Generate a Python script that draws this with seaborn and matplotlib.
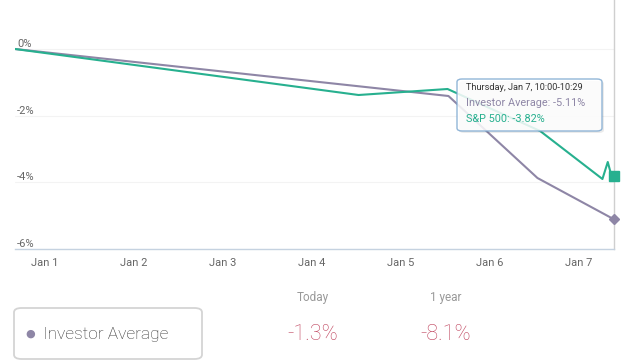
import numpy as np
import pandas as pd
import matplotlib
matplotlib.use("Agg")
import matplotlib.pyplot as plt
from matplotlib.patches import FancyBboxPatch
import seaborn as sns

# x = days after Jan 1 (fractional), y = % change
inv_x = [-0.33, 4.54, 5.54, 6.40]
inv_y = [0.0, -1.41, -3.87, -5.11]
sp_x = [-0.33, 3.53, 4.53, 5.57, 6.27, 6.33, 6.36, 6.40]
sp_y = [0.0, -1.38, -1.20, -2.46, -3.90, -3.39, -3.69, -3.82]

day_ticks = [0, 1, 2, 3, 4, 5, 6]
day_labels = ["Jan 1", "Jan 2", "Jan 3", "Jan 4", "Jan 5", "Jan 6", "Jan 7"]
pct_ticks = [0, -2, -4, -6]
pct_labels = ["0%", "-2%", "-4%", "-6%"]

tip_title = "Thursday, Jan 7, 10:00-10:29"
tip_lines = ["Investor Average: -5.11%", "S&P 500: -3.82%"]

summary_labels = ["Today", "1 year"]
summary_values = ["-1.3%", "-8.1%"]
legend_name = "Investor Average"

GREEN = "#27b08f"
PURPLE = "#8e86a6"
RED = "#c0455f"

sns.set_style("white")
plt.rcParams["font.family"] = ["Roboto", "DejaVu Sans"]

df = pd.concat([
    pd.DataFrame({"day": inv_x, "pct": inv_y, "series": "Investor Average"}),
    pd.DataFrame({"day": sp_x, "pct": sp_y, "series": "S&P 500"}),
])

fig = plt.figure(figsize=(6.31, 3.62), dpi=100)
ax = fig.add_axes([15 / 631, 113 / 362, 599 / 631, 249 / 362])

sns.lineplot(data=df, x="day", y="pct", hue="series", estimator=None, sort=False,
             palette={"Investor Average": PURPLE, "S&P 500": GREEN},
             linewidth=1.5, legend=False, ax=ax)
ax.plot(inv_x[-1], inv_y[-1], marker="D", ms=5, color=PURPLE, clip_on=False, zorder=10)
ax.plot(sp_x[-1], sp_y[-1], marker="s", ms=6.5, color=GREEN, clip_on=False, zorder=10)

ax.set_xlim(-0.33, 6.40)
ax.set_ylim(-6, 1.47)
ax.set_xticks(day_ticks, day_labels)
ax.set_yticks(pct_ticks, pct_labels)
ax.set_xlabel("")
ax.set_ylabel("")

ax.grid(axis="y", color="#f3f3f3", lw=0.8)
ax.grid(axis="x", visible=False)
for s in ["left", "top"]:
    ax.spines[s].set_visible(False)
ax.spines["bottom"].set_color("#c5d2e0")
ax.spines["bottom"].set_linewidth(1)
ax.spines["right"].set_color("#cfcfcf")
ax.spines["right"].set_linewidth(1)
ax.spines["right"].set_zorder(1)

ax.tick_params(axis="x", length=4.5, width=1, color="#c5d2e0", labelsize=8,
               labelcolor="#666666", pad=2)
ax.tick_params(axis="y", length=0, pad=-1.5, labelsize=8, labelcolor="#666666")
for lbl in ax.get_yticklabels():
    lbl.set_horizontalalignment("left")
    lbl.set_verticalalignment("bottom")

# tooltip
shadow = FancyBboxPatch((459 / 631, (362 - 133) / 362), 145 / 631, 52 / 362,
                        boxstyle="round,pad=0,rounding_size=0.008",
                        transform=fig.transFigure, facecolor="#000000", alpha=0.08,
                        edgecolor="none", zorder=5)
tip = FancyBboxPatch((457 / 631, (362 - 131) / 362), 145 / 631, 52 / 362,
                     boxstyle="round,pad=0,rounding_size=0.008",
                     transform=fig.transFigure, facecolor="white", alpha=0.85,
                     edgecolor="#7ea9d1", lw=1, zorder=6)
fig.patches.extend([shadow, tip])
fig.text(466 / 631, (362 - 87) / 362, tip_title, fontsize=6.6, color="#333333",
         va="center", zorder=7)
fig.text(466 / 631, (362 - 103) / 362, tip_lines[0], fontsize=7.8, color=PURPLE,
         va="center", zorder=7)
fig.text(466 / 631, (362 - 119) / 362, tip_lines[1], fontsize=7.8, color=GREEN,
         va="center", zorder=7)

# bottom summary
box = FancyBboxPatch((14 / 631, 3 / 362), 188 / 631, 51 / 362,
                     boxstyle="round,pad=0,rounding_size=0.012",
                     transform=fig.transFigure, facecolor="white",
                     edgecolor="#d4d4d4", lw=1.3)
fig.patches.append(box)
fig.text(30 / 631, 28 / 362, "\u25CF", fontsize=8, color=PURPLE, ha="center", va="center")
fig.text(43 / 631, 28 / 362, legend_name, fontsize=12.5, color="#333333",
         fontweight="light", va="center")

for cx, lab, val in zip([313, 446], summary_labels, summary_values):
    fig.text(cx / 631, (362 - 298) / 362, lab, fontsize=8.5, color="#999999",
             ha="center", va="center")
    fig.text(cx / 631, (362 - 335) / 362, val, fontsize=15.5, color=RED,
             fontweight="light", ha="center", va="center")

fig.savefig("out.png", dpi=100)
